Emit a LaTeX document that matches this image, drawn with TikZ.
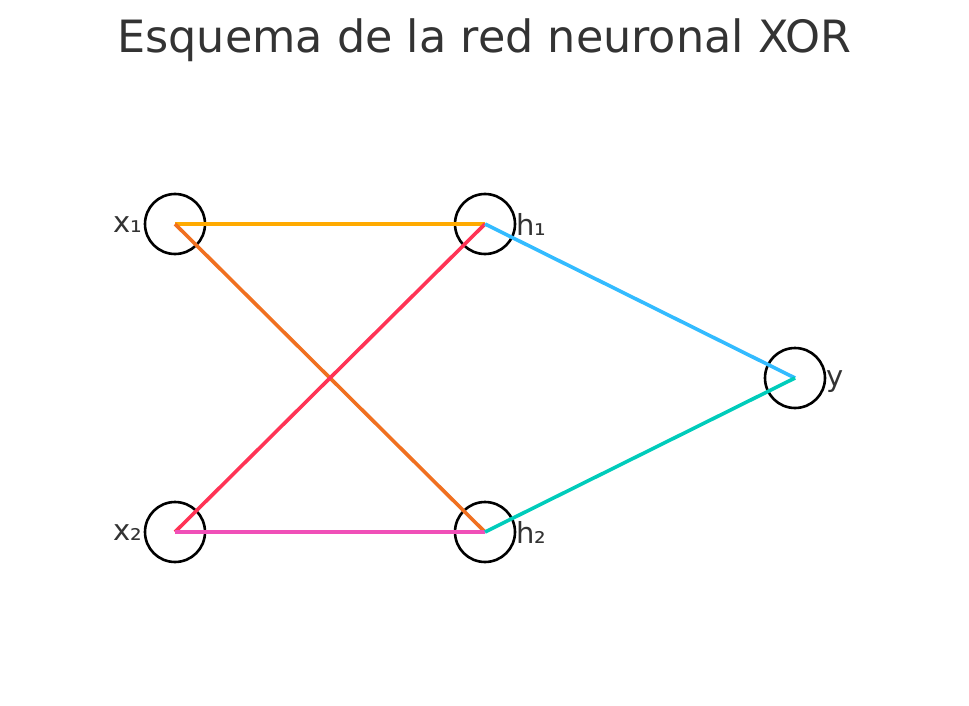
\documentclass[tikz,border=0pt]{standalone}
\usepackage{fontspec}
\setmainfont{DejaVu Sans}
\definecolor{txt}{HTML}{333333}
\definecolor{cA}{HTML}{FFAA00}
\definecolor{cB}{HTML}{F07020}
\definecolor{cC}{HTML}{FF3355}
\definecolor{cD}{HTML}{F050B8}
\definecolor{cE}{HTML}{33BBFF}
\definecolor{cF}{HTML}{00CCBB}
\begin{document}
\begin{tikzpicture}[x=1pt,y=-1pt,
  neuron/.style={circle,draw=black,line width=2.6pt,minimum size=60pt,inner sep=0pt},
  conn/.style={line width=3.6pt},
  lab/.style={text=txt,font=\fontsize{29}{31}\selectfont,inner sep=0pt}]
\useasboundingbox (0,0) rectangle (969,706);
\node[text=txt,font=\fontsize{44.5}{48}\selectfont] (title) at (484.5,40) {Esquema de la red neuronal XOR};
\node[neuron] (x1) at (175,224) {};
\node[neuron] (x2) at (175,532) {};
\node[neuron] (h1) at (485,224) {};
\node[neuron] (h2) at (485,532) {};
\node[neuron] (y) at (795,378) {};
\node[lab,anchor=east] (lx1) at ([xshift=-1pt,yshift=-1pt]x1.west) {x₁};
\node[lab,anchor=east] (lx2) at ([xshift=-1pt,yshift=-1pt]x2.west) {x₂};
\node[lab,anchor=west] (lh1) at ([xshift=0pt]h1.east) {h₁};
\node[lab,anchor=west] (lh2) at ([xshift=0pt]h2.east) {h₂};
\node[lab,anchor=west] (ly) at ([xshift=0pt,yshift=-4pt]y.east) {y};
\draw[conn,cA] (x1.center) -- (h1.center);
\draw[conn,cB] (x1.center) -- (h2.center);
\draw[conn,cC] (x2.center) -- (h1.center);
\draw[conn,cD] (x2.center) -- (h2.center);
\draw[conn,cE] (h1.center) -- (y.center);
\draw[conn,cF] (h2.center) -- (y.center);
\end{tikzpicture}
\end{document}
